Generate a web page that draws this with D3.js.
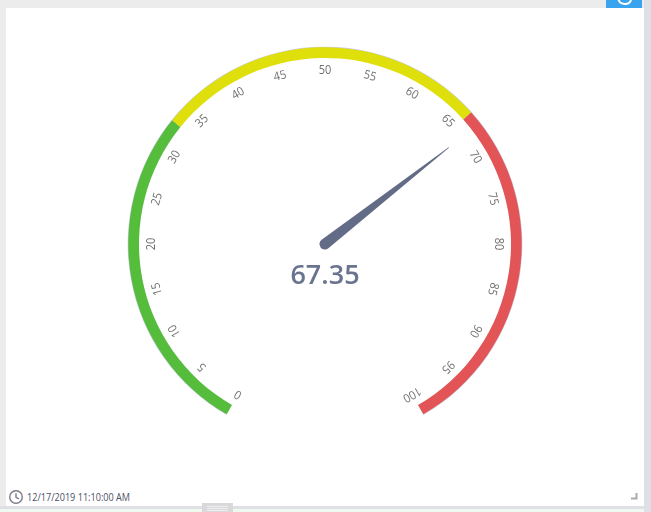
<!DOCTYPE html>
<html>
<head>
<meta charset="utf-8">
<script src="https://cdn.jsdelivr.net/npm/d3@7"></script>
<style>
  html, body { margin: 0; padding: 0; background: #fff; }
  svg { display: block; font-family: "Open Sans", "Noto Sans", sans-serif; }
</style>
</head>
<body>
<div id="chart"></div>
<script>
// gauge data
const gaugeValue = 67.35;
const gaugeMin = 0;
const gaugeMax = 100;
const tickValues = [0, 5, 10, 15, 20, 25, 30, 35, 40, 45, 50, 55, 60, 65, 70, 75, 80, 85, 90, 95, 100];
const bandStops = [0, 33, 66, 100];
const bandColors = ['#55bc3c', '#dfdf0b', '#e25455'];
const timestamp = '12/17/2019 11:10:00 AM';

const width = 651;
const height = 512;
const cx = 325;
const cy = 244;

const svg = d3.select('#chart')
  .append('svg')
  .attr('width', width)
  .attr('height', height);

// page chrome around the widget
function rect(x, y, w, h, fill) {
  return svg.append('rect')
    .attr('x', x).attr('y', y)
    .attr('width', w).attr('height', h)
    .attr('fill', fill);
}
rect(0, 0, width, height, '#ececec');
rect(644, 0, 7, height, '#dfe0e6');
rect(6, 8, 638, 498, '#ffffff');
rect(6, 506, 638, 3, '#dfe0e3');
rect(0, 509, 644, 3, '#eff9f0');
rect(0, 506, 6, 3, '#dfe0e3');
rect(606, 0, 36, 8, '#38a3ee');

// fragment of the refresh icon clipped by the top edge
svg.append('path')
  .attr('d', 'M618.5 0 Q620 4 625 4 Q630 4 631 0')
  .attr('fill', 'none')
  .attr('stroke', '#fff')
  .attr('stroke-width', 2);

// splitter grip
rect(202, 503, 31, 9, '#d9d9dc');
[506, 508, 510].forEach(function(y) {
  rect(207, y, 21, 0.8, '#f4f4f6');
});

// resize corner
svg.append('path')
  .attr('d', 'M631 498.5 H636.5 V493')
  .attr('fill', 'none')
  .attr('stroke', '#a9a9a9')
  .attr('stroke-width', 2);

const angle = d3.scaleLinear()
  .domain([gaugeMin, gaugeMax])
  .range([-150, 150]);

const toRad = function(d) { return d * Math.PI / 180; };

const gauge = svg.append('g')
  .attr('transform', 'translate(' + cx + ',' + cy + ')');

// faint edge round the coloured ring
gauge.append('path')
  .attr('d', d3.arc()
    .innerRadius(190)
    .outerRadius(197.3)
    .startAngle(toRad(angle(gaugeMin)))
    .endAngle(toRad(angle(gaugeMax)))())
  .attr('fill', '#c9cbe0');

const arc = d3.arc()
  .innerRadius(186)
  .outerRadius(196.7);

gauge.selectAll('.band')
  .data(bandColors)
  .enter()
  .append('path')
  .attr('class', 'band')
  .attr('fill', function(d) { return d; })
  .attr('d', function(d, i) {
    return arc({
      startAngle: toRad(angle(bandStops[i])),
      endAngle: toRad(angle(bandStops[i + 1]))
    });
  });

// the group opacity keeps the rotated labels on plain grey antialiasing
const labels = gauge.append('g')
  .attr('opacity', 0.99);

labels.selectAll('.tick-label')
  .data(tickValues)
  .enter()
  .append('text')
  .attr('class', 'tick-label')
  .attr('transform', function(d) {
    return 'rotate(' + angle(d) + ') translate(0,' + (-175) + ') scale(0.92,1)';
  })
  .attr('text-anchor', 'middle')
  .attr('dominant-baseline', 'central')
  .attr('font-size', 12)
  .attr('fill', '#6e6e6e')
  .text(function(d) { return d; });

// needle, drawn pointing up and rotated to the value
const needleShape = d3.line();
gauge.append('path')
  .attr('transform', 'rotate(' + angle(gaugeValue) + ')')
  .attr('d', needleShape([[-5.5, 0], [-0.3, -157], [0.3, -157], [5.5, 0]]) + 'A5.5 5.5 0 0 1 -5.5 0Z')
  .attr('fill', '#636c87');

gauge.append('text')
  .attr('x', 0)
  .attr('y', 40)
  .attr('text-anchor', 'middle')
  .attr('font-size', 27)
  .attr('font-weight', 600)
  .attr('fill', '#6b748f')
  .text(gaugeValue.toFixed(2));

// footer: clock icon and timestamp
const clock = svg.append('g')
  .attr('transform', 'translate(16,497)')
  .attr('fill', 'none')
  .attr('stroke', '#7b7c8c')
  .attr('stroke-width', 1.4);
clock.append('circle').attr('r', 6.3);
clock.append('path').attr('d', 'M0 -3.8 V0.3 L3 2');

svg.append('text')
  .attr('x', 27)
  .attr('y', 501)
  .attr('font-size', 10)
  .attr('textLength', 103)
  .attr('lengthAdjust', 'spacingAndGlyphs')
  .attr('fill', '#4d5066')
  .text(timestamp);
</script>
</body>
</html>
